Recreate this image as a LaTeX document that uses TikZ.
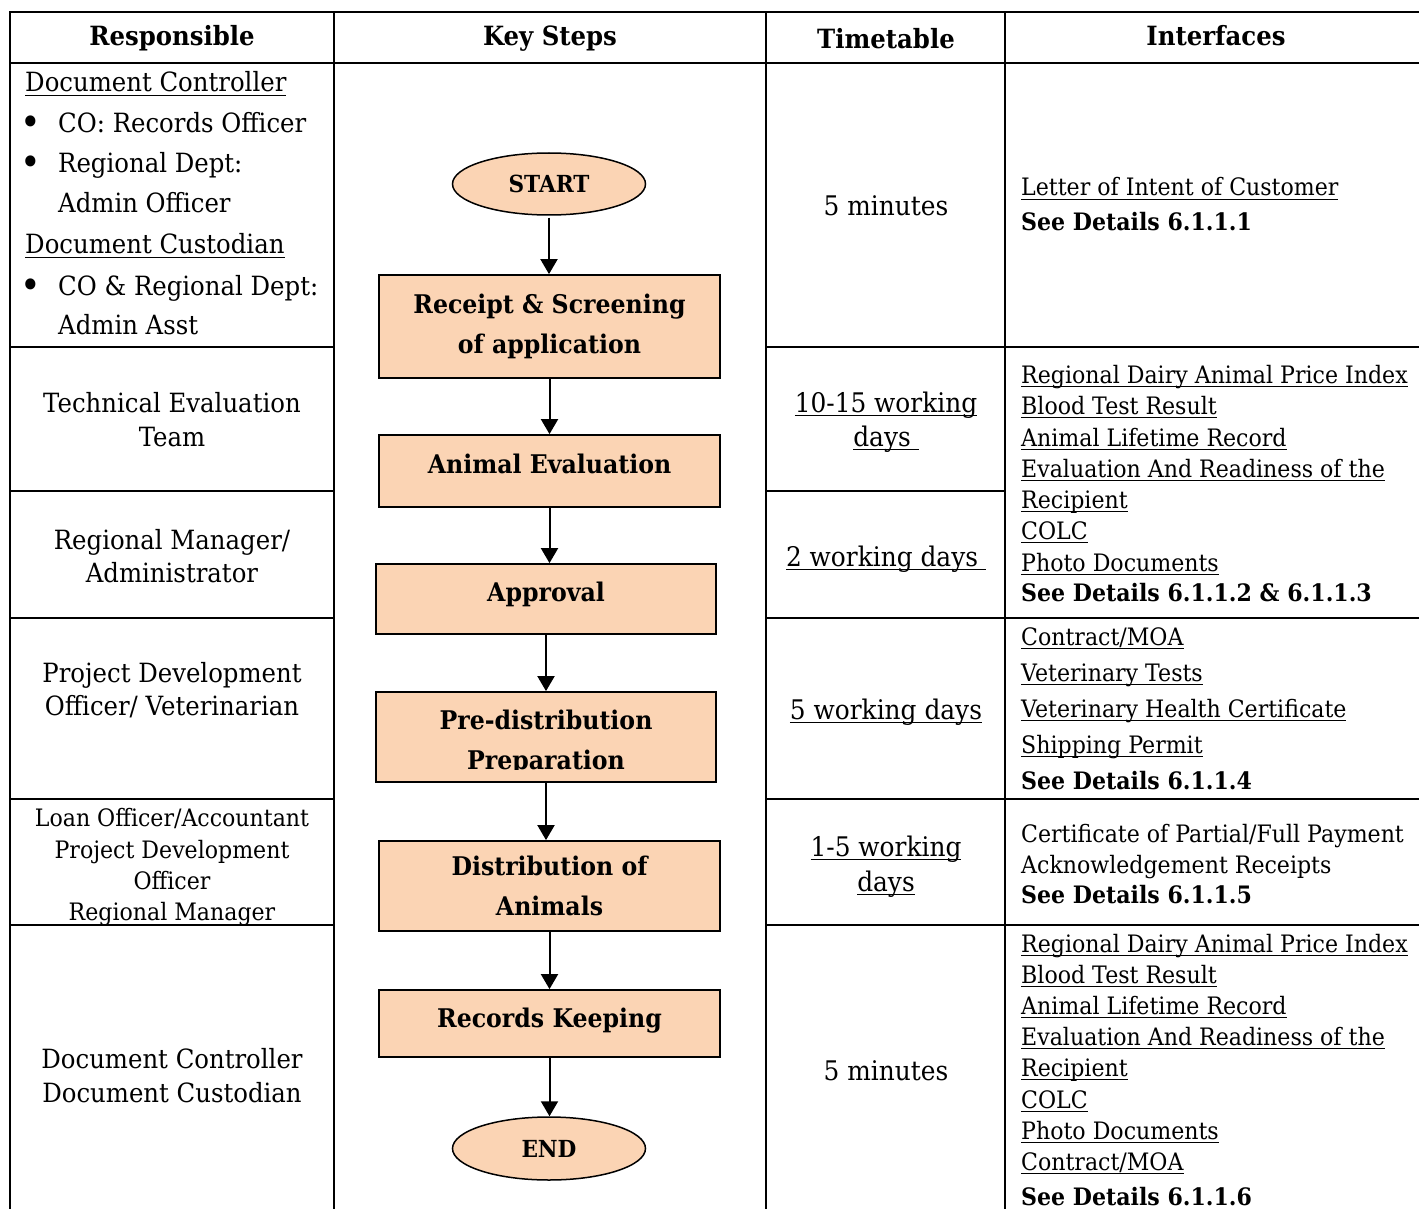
\documentclass[tikz,border=0pt]{standalone}
\usepackage{fontspec}
\setmainfont{DejaVu Serif}[FakeStretch=0.92]
\usetikzlibrary{arrows.meta,shapes.geometric}
\definecolor{peach}{HTML}{FBD4B4}
\newcommand\ulin[1]{\setbox0=\hbox{#1}\rlap{\rule[-4.3pt]{\wd0}{1.4pt}}\box0}
\newcommand\szHdr{\fontsize{26.5}{32}\selectfont\bfseries}
\newcommand\szLeft{\fontsize{26.5}{33}\selectfont}
\newcommand\szSmall{\fontsize{24}{31}\selectfont}
\newcommand\szTime{\fontsize{27}{34}\selectfont}
\newcommand\szInt{\fontsize{24}{31}\selectfont}
\newcommand\szStep{\fontsize{25.7}{40}\selectfont\bfseries}
\newcommand\szTerm{\fontsize{23.5}{28}\selectfont\bfseries}
\newcommand\szBul{\fontsize{38}{38}\selectfont}
\begin{document}
\begin{tikzpicture}[x=1pt,y=-1pt,
  grid/.style={line width=2.2pt,line cap=rect},
  hdr/.style={inner sep=0pt,anchor=base,font=\szHdr},
  lw/.style={inner sep=0pt,anchor=base west,font=\szLeft},
  bul/.style={inner sep=0pt,anchor=base,font=\szBul},
  lc/.style={inner sep=0pt,anchor=base,font=\szLeft},
  ls/.style={inner sep=0pt,anchor=base,font=\szSmall},
  tc/.style={inner sep=0pt,anchor=base,font=\szTime},
  iw/.style={inner sep=0pt,anchor=base west,font=\szInt},
  ib/.style={inner sep=0pt,anchor=base west,font=\szInt\bfseries},
  stepbox/.style={draw,line width=1.8pt,fill=peach,rectangle,inner sep=0pt,align=center,font=\szStep},
  steptext/.style={inner sep=0pt,align=center,font=\szStep},
  term/.style={draw,line width=1.5pt,fill=peach,ellipse,inner sep=0pt,minimum width=193pt,minimum height=62pt,font=\szTerm},
  arr/.style={line width=2pt,-{Triangle[width=17pt,length=15pt]}}
]
\clip (0,0) rectangle (1419,1209);
% table grid
\draw[grid] (10,12) -- (1425,12);
\draw[grid] (10,63) -- (1425,63);
\draw[grid] (10,12) -- (10,1215);
\draw[grid] (334,12) -- (334,1215);
\draw[grid] (766,12) -- (766,1215);
\draw[grid] (1005,12) -- (1005,1215);
\draw[grid] (10,347) -- (334,347);
\draw[grid] (10,491) -- (334,491);
\draw[grid] (10,618) -- (334,618);
\draw[grid] (10,799) -- (334,799);
\draw[grid] (10,925) -- (334,925);
\draw[grid] (766,347) -- (1425,347);
\draw[grid] (766,491) -- (1005,491);
\draw[grid] (766,618) -- (1425,618);
\draw[grid] (766,799) -- (1425,799);
\draw[grid] (766,925) -- (1425,925);

% header
\node[hdr] (hResp) at (172,46) {Responsible};
\node[hdr] (hKey) at (550,46) {Key Steps};
\node[hdr] (hTime) at (886,49) {Timetable};
\node[hdr] (hInt) at (1216,46) {Interfaces};

% responsible column
\node[lw] (r1) at (25,92) {\ulin{Document Controller}};
\node[bul] (r2b) at (31,136) {\textbullet};
\node[lw] (r2) at (58,133) {CO: Records Officer};
\node[bul] (r3b) at (31,176) {\textbullet};
\node[lw] (r3) at (58,173) {Regional Dept:};
\node[lw] (r4) at (58,213) {Admin Officer};
\node[lw] (r5) at (25,254) {\ulin{Document Custodian}};
\node[bul] (r6b) at (31,298) {\textbullet};
\node[lw] (r6) at (58,295) {CO \& Regional Dept:};
\node[lw] (r7) at (58,334) {Admin Asst};

\node[lc] (t1) at (172,412) {Technical Evaluation};
\node[lc] (t2) at (172,446) {Team};
\node[lc] (m1) at (172,549) {Regional Manager/};
\node[lc] (m2) at (172,582) {Administrator};
\node[lc] (p1) at (172,682) {Project Development};
\node[lc] (p2) at (172,715) {Officer/ Veterinarian};
\node[ls] (o1) at (172,826) {Loan Officer/Accountant};
\node[ls] (o2) at (172,858) {Project Development};
\node[ls] (o3) at (172,889) {Officer};
\node[ls] (o4) at (172,920) {Regional Manager};
\node[lc] (d1) at (172,1068) {Document Controller};
\node[lc] (d2) at (172,1102) {Document Custodian};

% timetable column
\node[tc] (tt1) at (886,215) {5 minutes};
\node[tc] (tt2a) at (886,412) {\ulin{10-15 working}};
\node[tc] (tt2b) at (886,446) {\ulin{days\ }};
\node[tc] (tt3) at (886,566) {\ulin{2 working days\ }};
\node[tc] (tt4) at (886,719) {\ulin{5 working days}};
\node[tc] (tt5a) at (886,856) {\ulin{1-5 working}};
\node[tc] (tt5b) at (886,891) {\ulin{days}};
\node[tc] (tt6) at (886,1080) {5 minutes};

% interfaces column
\node[iw] (i1a) at (1021,196) {\ulin{Letter of Intent of Customer}};
\node[ib] (i1b) at (1021,231) {See Details 6.1.1.1};

\node[iw] (i2a) at (1021,383) {\ulin{Regional Dairy Animal Price Index}};
\node[iw] (i2b) at (1021,414) {\ulin{Blood Test Result}};
\node[iw] (i2c) at (1021,446) {\ulin{Animal Lifetime Record}};
\node[iw] (i2d) at (1021,477) {\ulin{Evaluation And Readiness of the}};
\node[iw] (i2e) at (1021,508) {\ulin{Recipient}};
\node[iw] (i2f) at (1021,539) {\ulin{COLC}};
\node[iw] (i2g) at (1021,571) {\ulin{Photo Documents}};
\node[ib] (i2h) at (1021,601) {See Details 6.1.1.2 \& 6.1.1.3};

\node[iw] (i3a) at (1021,645) {\ulin{Contract/MOA}};
\node[iw] (i3b) at (1021,681) {\ulin{Veterinary Tests}};
\node[iw] (i3c) at (1021,717) {\ulin{Veterinary Health Certificate}};
\node[iw] (i3d) at (1021,753) {\ulin{Shipping Permit}};
\node[ib] (i3e) at (1021,789) {See Details 6.1.1.4};

\node[iw] (i4a) at (1021,842) {Certificate of Partial/Full Payment};
\node[iw] (i4b) at (1021,873) {Acknowledgement Receipts};
\node[ib] (i4c) at (1021,903) {See Details 6.1.1.5};

\node[iw] (i5a) at (1021,952) {\ulin{Regional Dairy Animal Price Index}};
\node[iw] (i5b) at (1021,983) {\ulin{Blood Test Result}};
\node[iw] (i5c) at (1021,1014) {\ulin{Animal Lifetime Record}};
\node[iw] (i5d) at (1021,1045) {\ulin{Evaluation And Readiness of the}};
\node[iw] (i5e) at (1021,1076) {\ulin{Recipient}};
\node[iw] (i5f) at (1021,1108) {\ulin{COLC}};
\node[iw] (i5g) at (1021,1139) {\ulin{Photo Documents}};
\node[iw] (i5h) at (1021,1170) {\ulin{Contract/MOA}};
\node[ib] (i5i) at (1021,1205) {See Details 6.1.1.6};

% flowchart
\node[term] (start) at (549,184) {START};
\node[stepbox,minimum width=341pt,minimum height=103pt] (s1) at (549.5,326.5) {Receipt \& Screening\\of application};
\node[stepbox,minimum width=341pt,minimum height=72pt,text depth=14pt] (s2) at (549.5,471) {Animal Evaluation};
\node[stepbox,minimum width=340pt,minimum height=70pt,text depth=14pt] (s3) at (546,599) {Approval};
\node[stepbox,minimum width=340pt,minimum height=90pt] (s4) at (546,737) {};
\begin{scope}
\clip (376,692) rectangle (716,769);
\node[steptext] (s4t) at (546,742) {Pre-distribution\\Preparation};
\end{scope}
\node[stepbox,minimum width=341pt,minimum height=90pt] (s5) at (549.5,886) {Distribution of\\Animals};
\node[stepbox,minimum width=341pt,minimum height=67pt,text depth=12pt] (s6) at (549.5,1023.5) {Records Keeping};
\node[term,minimum height=63pt] (end) at (549,1148.5) {END};

\draw[arr] ([yshift=-2pt]start.south) -- (start.south |- s1.north);
\draw[arr] (s1.south) -- (s1.south |- s2.north);
\draw[arr] (s2.south) -- (s2.south |- s3.north);
\draw[arr] (s3.south) -- (s3.south |- s4.north);
\draw[arr] (s4.south) -- (s4.south |- s5.north);
\draw[arr] (s5.south) -- (s5.south |- s6.north);
\draw[arr] (s6.south) -- (s6.south |- end.north);
\end{tikzpicture}
\end{document}
